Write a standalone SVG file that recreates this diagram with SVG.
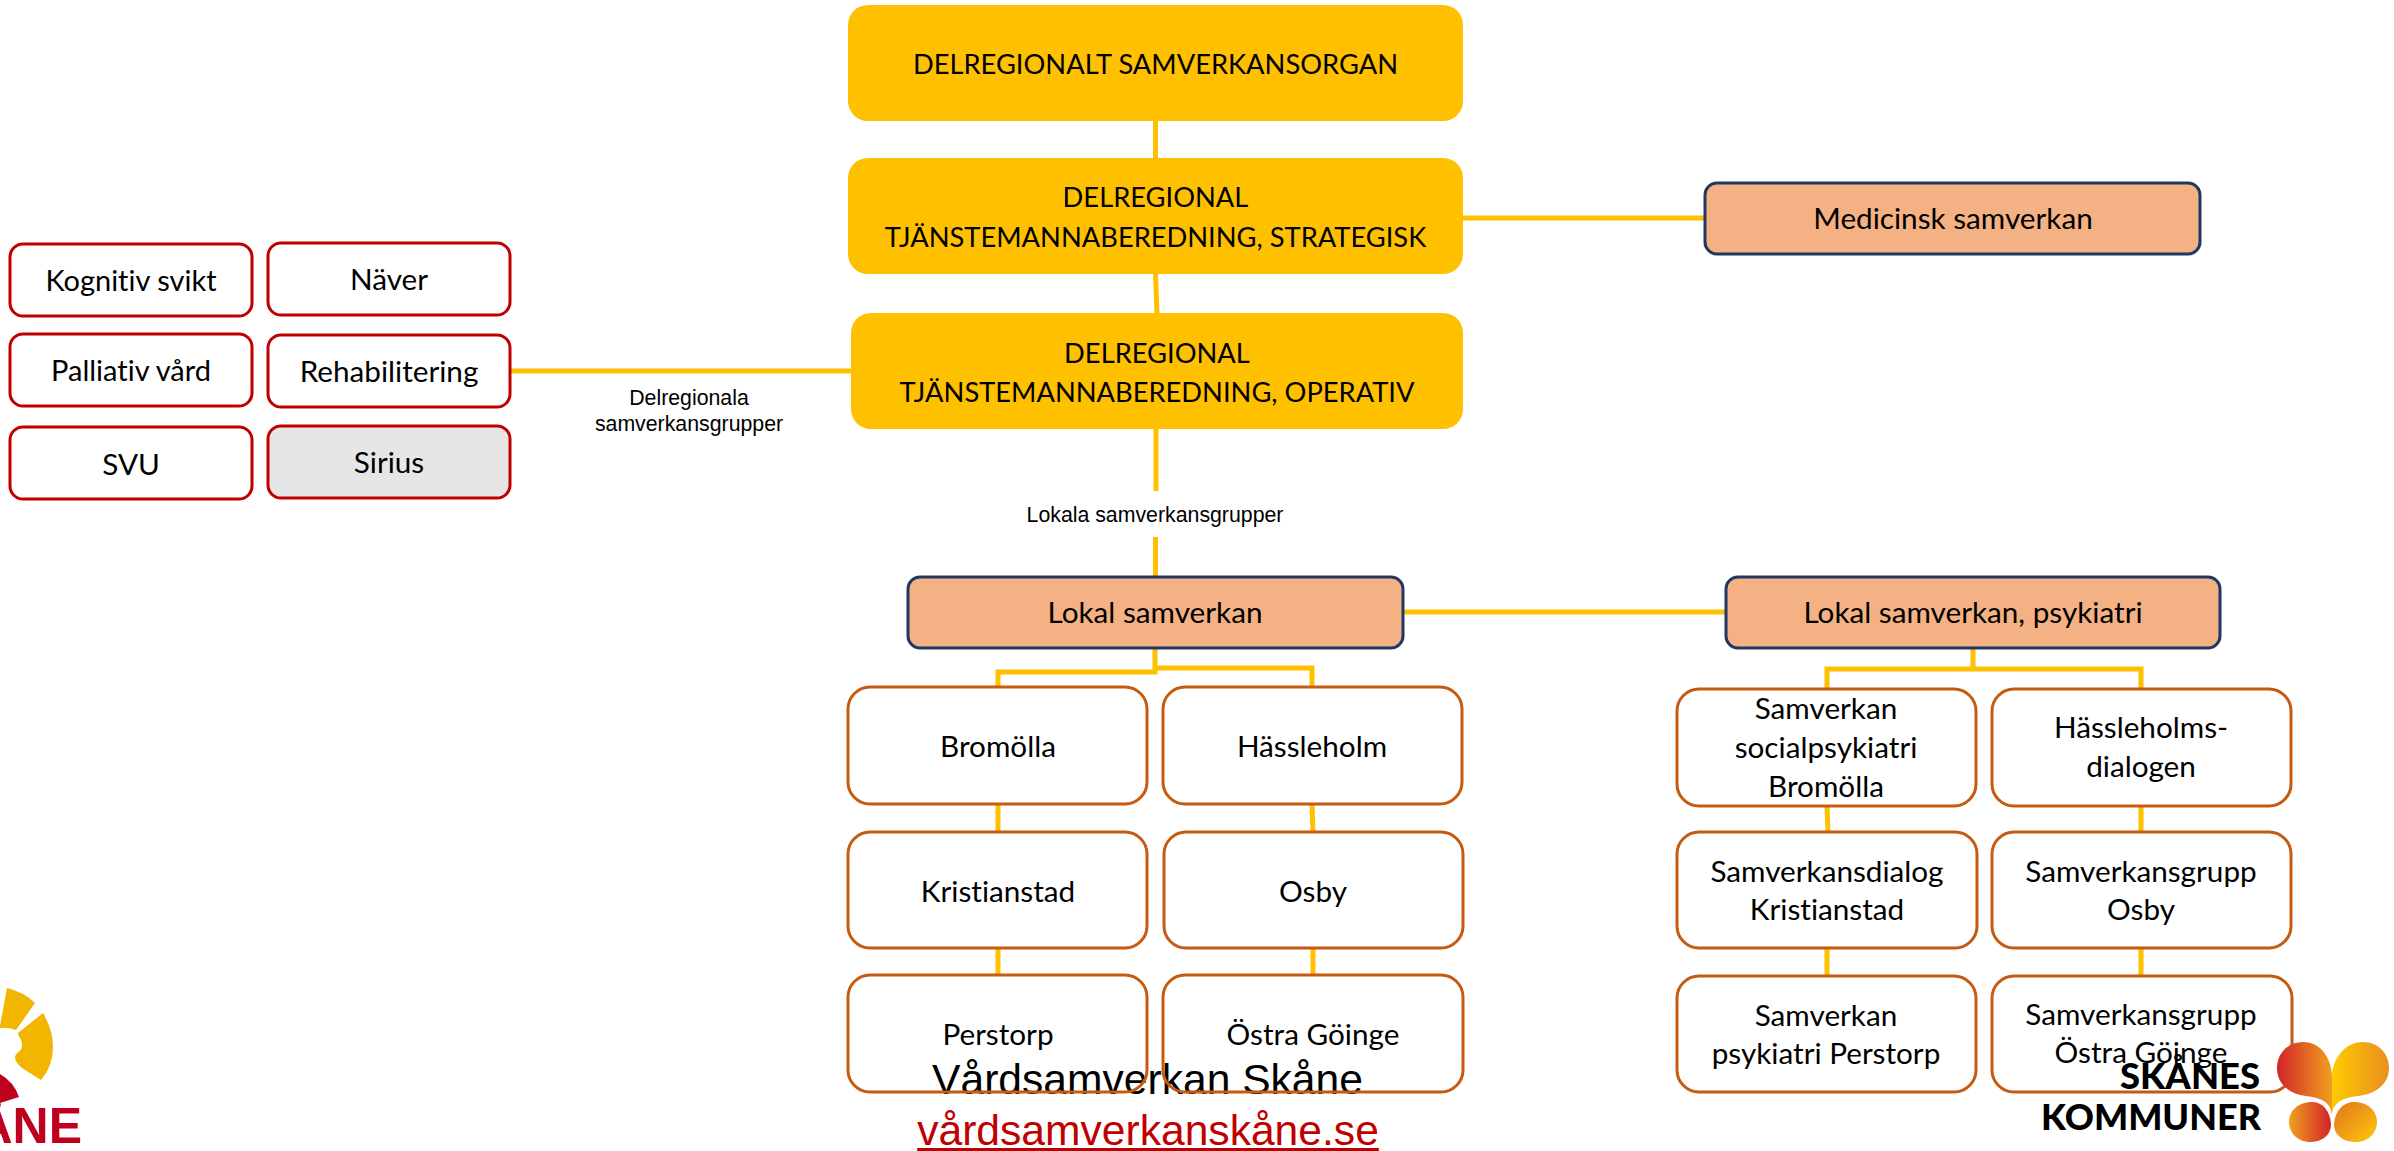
<svg xmlns="http://www.w3.org/2000/svg" width="2394" height="1151" viewBox="0 0 2394 1151">
<defs>
<style>
text{font-family:"Lato","Liberation Sans",sans-serif;font-size:29.7px;fill:#000;text-anchor:middle;font-variant-ligatures:none}
.c{fill:none;stroke:#FFC000;stroke-width:5}
.gold{fill:#FFC000}
.cap{font-size:27.3px}
.peach{fill:#F4B183;stroke:#1F3864;stroke-width:3}
.red{fill:none;stroke:#C00000;stroke-width:3}
.org{fill:none;stroke:#C55A11;stroke-width:3}
.ar{font-family:"Liberation Sans",Arial,sans-serif}
.lab{font-size:21.3px}
.big{font-size:42.6px}
</style>
<linearGradient id="gl" x1="0" x2="1" y1="0" y2="0"><stop offset="0" stop-color="#D2232A"/><stop offset="1" stop-color="#F0A01E"/></linearGradient>
<linearGradient id="gr" x1="0" x2="1" y1="0" y2="0"><stop offset="0" stop-color="#FFCC00"/><stop offset="1" stop-color="#E98E20"/></linearGradient>
<linearGradient id="gbl" x1="0" x2="1" y1="0" y2="0"><stop offset="0" stop-color="#F0A01E"/><stop offset="1" stop-color="#D2232A"/></linearGradient>
<linearGradient id="gbr" x1="0" x2="1" y1="0" y2="1"><stop offset="0" stop-color="#E2741F"/><stop offset="1" stop-color="#FFC80A"/></linearGradient>
</defs>
<g id="connectors">
<path class="c" d="M1155.5 121V158M1155.5 274L1157 313M1156 429V491M1155.5 537V576M1463 218H1705M510 371H851M1403 612H1725"/>
<path class="c" d="M1155 648V672H998V687M1155 668H1312V687"/>
<path class="c" d="M998 804V832M998 948V976M1312 804L1313 832M1313 948V976"/>
<path class="c" d="M1973 648V669M1827 688V669H2141V688"/>
<path class="c" d="M1827 806L1828 832M1827 948V976M2141 806V832M2141 948V976"/>
</g>
<g id="footer-title"><text class="ar big" x="1147.5" y="1094">Vårdsamverkan Skåne</text></g>
<g id="n-top"><rect class="gold" x="848" y="5" width="615" height="116" rx="20"/><text class="cap" x="1155.5" y="74">DELREGIONALT SAMVERKANSORGAN</text></g>
<g id="n-strategisk"><rect class="gold" x="848" y="158" width="615" height="116" rx="20"/><text class="cap" x="1155.5" y="207">DELREGIONAL</text><text class="cap" x="1155.5" y="247">TJÄNSTEMANNABEREDNING, STRATEGISK</text></g>
<g id="n-operativ"><rect class="gold" x="851" y="313" width="612" height="116" rx="20"/><text class="cap" x="1157" y="363">DELREGIONAL</text><text class="cap" x="1157" y="402">TJÄNSTEMANNABEREDNING, OPERATIV</text></g>
<g id="n-medicinsk"><rect class="peach" x="1705" y="183" width="495" height="71" rx="12"/><text x="1953" y="229">Medicinsk samverkan</text></g>
<g id="n-lokal"><rect class="peach" x="908" y="577" width="495" height="71" rx="12"/><text x="1155" y="623">Lokal samverkan</text></g>
<g id="n-psyk"><rect class="peach" x="1726" y="577" width="494" height="71" rx="12"/><text x="1973" y="623">Lokal samverkan, psykiatri</text></g>
<g id="n-kognitiv"><rect class="red" x="10" y="244" width="242" height="72" rx="13"/><text x="131" y="291" style="font-size:29px">Kognitiv svikt</text></g>
<g id="n-naver"><rect class="red" x="268" y="243" width="242" height="72" rx="13"/><text x="389" y="290">Näver</text></g>
<g id="n-palliativ"><rect class="red" x="10" y="334" width="242" height="72" rx="13"/><text x="131" y="381" style="font-size:29px">Palliativ vård</text></g>
<g id="n-rehab"><rect class="red" x="268" y="335" width="242" height="72" rx="13"/><text x="389" y="382">Rehabilitering</text></g>
<g id="n-svu"><rect class="red" x="10" y="427" width="242" height="72" rx="13"/><text x="131" y="475">SVU</text></g>
<g id="n-sirius"><rect x="268" y="426" width="242" height="72" rx="13" fill="#E7E6E6" stroke="#C00000" stroke-width="3"/><text x="389" y="473">Sirius</text></g>
<g id="label-delreg"><text class="ar lab" x="689" y="405">Delregionala</text><text class="ar lab" x="689" y="431">samverkansgrupper</text></g>
<g id="label-lokala"><text class="ar lab" x="1155" y="522">Lokala samverkansgrupper</text></g>
<g id="n-bromolla"><rect class="org" x="848" y="687" width="299" height="117" rx="22"/><text x="998" y="757">Bromölla</text></g>
<g id="n-hassleholm"><rect class="org" x="1163" y="687" width="299" height="117" rx="22"/><text x="1312" y="757">Hässleholm</text></g>
<g id="n-kristianstad"><rect class="org" x="848" y="832" width="299" height="116" rx="22"/><text x="998" y="902">Kristianstad</text></g>
<g id="n-osby"><rect class="org" x="1164" y="832" width="299" height="116" rx="22"/><text x="1313" y="902">Osby</text></g>
<g id="n-perstorp"><rect class="org" x="848" y="975" width="299" height="117" rx="22"/><text x="998" y="1045">Perstorp</text></g>
<g id="n-ostra"><rect class="org" x="1163" y="975" width="300" height="117" rx="22"/><text x="1313" y="1045">Östra Göinge</text></g>
<g id="n-socialpsyk"><rect class="org" x="1677" y="689" width="299" height="117" rx="22"/><text x="1826" y="719">Samverkan</text><text x="1826" y="758">socialpsykiatri</text><text x="1826" y="797">Bromölla</text></g>
<g id="n-dialogen"><rect class="org" x="1992" y="689" width="299" height="117" rx="22"/><text x="2141" y="738">Hässleholms-</text><text x="2141" y="777">dialogen</text></g>
<g id="n-sdk"><rect class="org" x="1677" y="832" width="300" height="116" rx="22"/><text x="1827" y="882">Samverkansdialog</text><text x="1827" y="920">Kristianstad</text></g>
<g id="n-sgo"><rect class="org" x="1992" y="832" width="299" height="116" rx="22"/><text x="2141" y="882">Samverkansgrupp</text><text x="2141" y="920">Osby</text></g>
<g id="n-spp"><rect class="org" x="1677" y="976" width="299" height="116" rx="22"/><text x="1826" y="1026">Samverkan</text><text x="1826" y="1064">psykiatri Perstorp</text></g>
<g id="n-sgog"><rect class="org" x="1992" y="976" width="300" height="116" rx="22"/><text x="2141" y="1025">Samverkansgrupp</text><text x="2141" y="1063">Östra Göinge</text></g>
<g id="footer-link"><text class="ar big" x="1148" y="1145" style="fill:#C00000;text-decoration:underline">vårdsamverkanskåne.se</text></g>
<g id="logo-skane">
<path fill="#F2B500" d="M7 988Q24 992 35 1003L16 1030Q8 1027 0 1028V1026Z"/>
<path fill="#F2B500" d="M43 1013Q53 1030 53 1047Q53 1066 41 1080L22 1068Q15 1062 15 1057C16 1052 22 1052 22 1045C22 1038 18 1037 18 1033Z"/>
<path fill="#C0001F" d="M0 1074Q14 1082 19 1097L0 1103Z"/>
<text x="82" y="1143" style="font-family:'Liberation Sans',Arial,sans-serif;font-size:50px;font-weight:700;fill:#C0001F;text-anchor:end">SKÅNE</text>
</g>
<g id="logo-kommuner">
<text x="2120" y="1089" textLength="140" lengthAdjust="spacingAndGlyphs" style="font-size:36px;font-weight:900;text-anchor:start">SKÅNES</text>
<text x="2041" y="1130" textLength="220" lengthAdjust="spacingAndGlyphs" style="font-size:36px;font-weight:900;text-anchor:start">KOMMUNER</text>
<path fill="url(#gl)" d="M2332 1115C2331 1105 2325 1098 2306 1096C2288 1094 2277 1083 2277 1068C2277 1053 2288 1042 2303 1042C2322 1042 2332 1060 2332 1077Z"/>
<path fill="url(#gr)" d="M2332 1115C2333 1105 2339 1098 2358 1096C2377 1094 2389 1083 2389 1068C2389 1053 2378 1042 2363 1042C2344 1042 2332 1060 2332 1077Z"/>
<path fill="url(#gbl)" d="M2331 1124C2331 1136 2321 1142 2310 1142C2298 1142 2289 1133 2289 1122C2289 1111 2298 1102 2312 1102C2322 1102 2330 1110 2331 1124Z"/>
<path fill="url(#gbr)" d="M2334 1124C2334 1136 2344 1142 2356 1142C2368 1142 2377 1133 2377 1122C2377 1111 2368 1102 2354 1102C2344 1102 2335 1110 2334 1124Z"/>
</g>
</svg>
